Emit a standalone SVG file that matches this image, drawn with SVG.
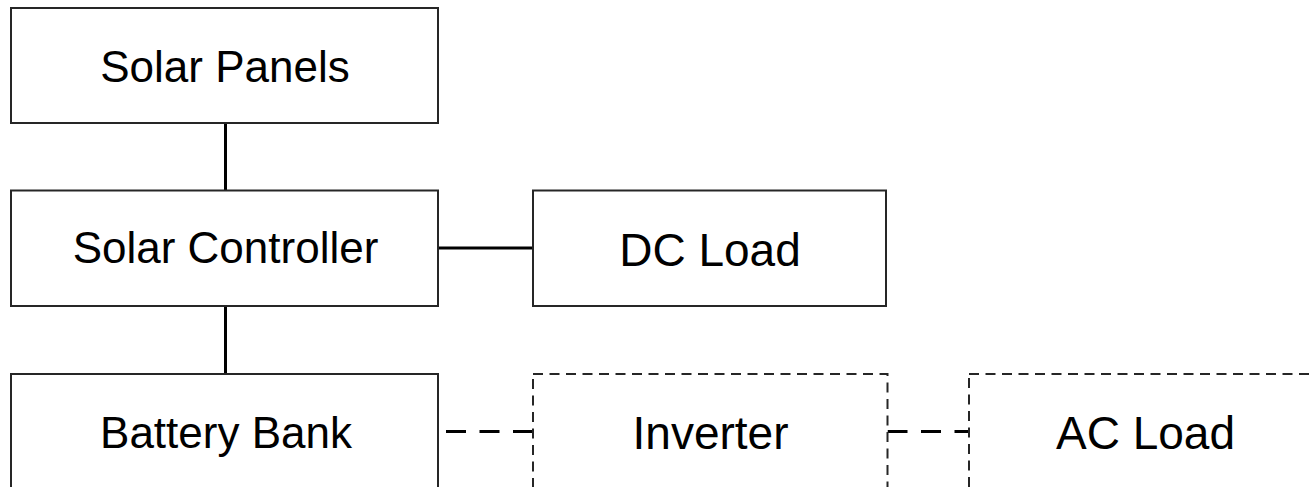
<svg xmlns="http://www.w3.org/2000/svg" width="1313" height="487" viewBox="0 0 1313 487">
  <style>
    .box { fill: #ffffff; stroke: #262626; stroke-width: 2; }
    .opt { fill: #ffffff; stroke: #262626; stroke-width: 2; stroke-dasharray: 10 6.5; }
    .lbl { font-family: "Liberation Sans", Arial, sans-serif; fill: #000000; text-anchor: middle; }
    .wire { stroke: #000000; stroke-width: 3; fill: none; }
    .wire-opt { stroke: #000000; stroke-width: 3; fill: none; stroke-dasharray: 20 13.5; }
  </style>
  <rect width="1313" height="487" fill="#ffffff"/>

  <g id="connectors">
    <line class="wire" x1="225.5" y1="123" x2="225.5" y2="190.5"/>
    <line class="wire" x1="225.5" y1="306" x2="225.5" y2="374"/>
    <line class="wire" x1="438" y1="248" x2="533" y2="248"/>
    <line class="wire-opt" x1="533" y1="431.5" x2="438" y2="431.5"/>
    <line class="wire-opt" x1="887.5" y1="431.5" x2="969" y2="431.5"/>
  </g>

  <g id="solar-panels">
    <rect class="box" x="11" y="8" width="427" height="115"/>
    <text class="lbl" x="225" y="82" font-size="44">Solar Panels</text>
  </g>

  <g id="solar-controller">
    <rect class="box" x="11" y="190.5" width="427" height="115.5"/>
    <text class="lbl" x="225.5" y="263" font-size="44">Solar Controller</text>
  </g>

  <g id="dc-load">
    <rect class="box" x="533" y="190.5" width="353" height="115.5"/>
    <text class="lbl" x="710" y="266" font-size="46">DC Load</text>
  </g>

  <g id="battery-bank">
    <rect class="box" x="11" y="374" width="427" height="115"/>
    <text class="lbl" x="226" y="448" font-size="44">Battery Bank</text>
  </g>

  <g id="inverter">
    <rect class="opt" x="533" y="374" width="354.5" height="115"/>
    <text class="lbl" x="710.5" y="449" font-size="46">Inverter</text>
  </g>

  <g id="ac-load">
    <rect class="opt" x="969" y="374" width="354" height="115"/>
    <text class="lbl" x="1145.5" y="448.5" font-size="46">AC Load</text>
  </g>
</svg>
